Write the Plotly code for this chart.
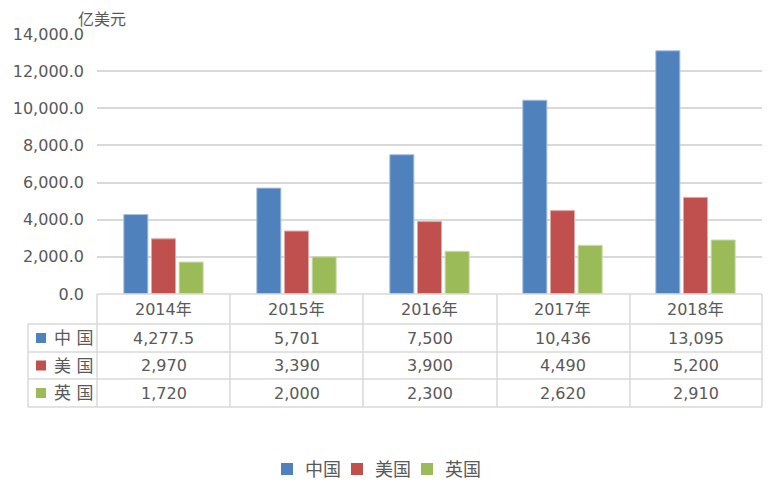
import plotly.graph_objects as go

years = ['2014年', '2015年', '2016年', '2017年', '2018年']
countries = ['中国', '美国', '英国']
china = [4277.5, 5701, 7500, 10436, 13095]
usa = [2970, 3390, 3900, 4490, 5200]
uk = [1720, 2000, 2300, 2620, 2910]
colors = ['#4F81BD', '#C0504D', '#9BBB59']
edge_colors = ['#A7C0DE', '#E0A8A6', '#CDDDAC']

series = [china, usa, uk]

W, H = 771, 483
OFF = 8  # page body margin pushes the figure 8px right and down
left, right = 97, 762   # plot area in screenshot pixels
top, bottom = 34, 294
grid_color = '#D9D9D9'
text_color = '#595959'
font_family = 'DejaVu Sans, Noto Sans CJK SC'


# screenshot pixel -> paper coordinates
def px(x):
    return (x - left) / (right - left)


def py(y):
    return (bottom - y) / (bottom - top)


def fmt(v):
    if v == int(v):
        return f'{v:,.0f}'
    return f'{v:,.1f}'


fig = go.Figure()
for name, vals, c, ec in zip(countries, series, colors, edge_colors):
    fig.add_trace(go.Bar(
        x=years,
        y=vals,
        name=name,
        marker=dict(color=c, line=dict(color=ec, width=1)),
    ))

# data table under the chart
row_lines = [324, 352, 379, 407]
col_lines = [97, 230, 363, 497, 630, 762]
row_mid = [309, 338, 365.5, 393]

line_style = dict(color=grid_color, width=1.5)
shapes = []
shapes.append(dict(type='line', xref='paper', yref='paper', x0=px(97), x1=px(762),
                   y0=py(294), y1=py(294), line=line_style))
for y in row_lines:
    shapes.append(dict(type='line', xref='paper', yref='paper', x0=px(28), x1=px(762),
                       y0=py(y), y1=py(y), line=line_style))
for x in col_lines:
    shapes.append(dict(type='line', xref='paper', yref='paper', x0=px(x), x1=px(x),
                       y0=py(294), y1=py(407), line=line_style))
shapes.append(dict(type='line', xref='paper', yref='paper', x0=px(28), x1=px(28),
                   y0=py(324), y1=py(407), line=line_style))

annotations = []
for yr in years:
    annotations.append(dict(x=yr, xref='x', y=py(row_mid[0]), yref='paper', text=yr,
                            showarrow=False, yanchor='middle',
                            font=dict(size=16, color=text_color, family=font_family)))
for i, (name, vals, c) in enumerate(zip(countries, series, colors)):
    ym = row_mid[i + 1]
    shapes.append(dict(type='rect', xref='paper', yref='paper', x0=px(36), x1=px(46),
                       y0=py(ym + 5), y1=py(ym - 5), fillcolor=c, line=dict(width=0)))
    annotations.append(dict(x=px(52), xref='paper', y=py(ym), yref='paper',
                            text=name[0] + ' ' + name[1],
                            showarrow=False, xanchor='left', yanchor='middle',
                            font=dict(size=17, color=text_color, family=font_family)))
    for yr, v in zip(years, vals):
        annotations.append(dict(x=yr, xref='x', y=py(ym), yref='paper', text=fmt(v),
                                showarrow=False, yanchor='middle',
                                font=dict(size=16, color=text_color, family=font_family)))

# legend under the table (drawn by hand to match the spacing)
legend_x = [281, 351, 421]
legend_y = 469
for name, c, lx in zip(countries, colors, legend_x):
    shapes.append(dict(type='rect', xref='paper', yref='paper', x0=px(lx), x1=px(lx + 12),
                       y0=py(legend_y + 6), y1=py(legend_y - 6), fillcolor=c,
                       line=dict(width=0)))
    annotations.append(dict(x=px(lx + 22), xref='paper', y=py(legend_y), yref='paper',
                            text=name, showarrow=False, xanchor='left', yanchor='middle',
                            font=dict(size=18, color=text_color, family=font_family)))

# unit label, as high as the figure allows
annotations.append(dict(x=px(102), xref='paper', y=py(OFF), yref='paper', text='亿美元',
                        showarrow=False, xanchor='center', yanchor='top',
                        font=dict(size=16, color=text_color, family=font_family)))

fig.update_layout(
    width=W, height=H,
    margin=dict(l=left - OFF, r=W - right + OFF, t=top - OFF, b=H - bottom + OFF,
                autoexpand=False),
    paper_bgcolor='white', plot_bgcolor='white',
    barmode='group', bargap=0.376, bargroupgap=0.13,
    font=dict(family=font_family, color=text_color),
    shapes=shapes,
    annotations=annotations,
    showlegend=False,
)
fig.update_xaxes(showticklabels=False, showgrid=False, showline=False, zeroline=False)
fig.update_yaxes(range=[0, 14000], dtick=2000, tickformat=',.1f',
                 gridcolor=grid_color, gridwidth=1.5, zeroline=False,
                 showline=False, ticklabelstandoff=12,
                 tickfont=dict(size=16, color=text_color, family=font_family))

fig.write_html('out.html')
